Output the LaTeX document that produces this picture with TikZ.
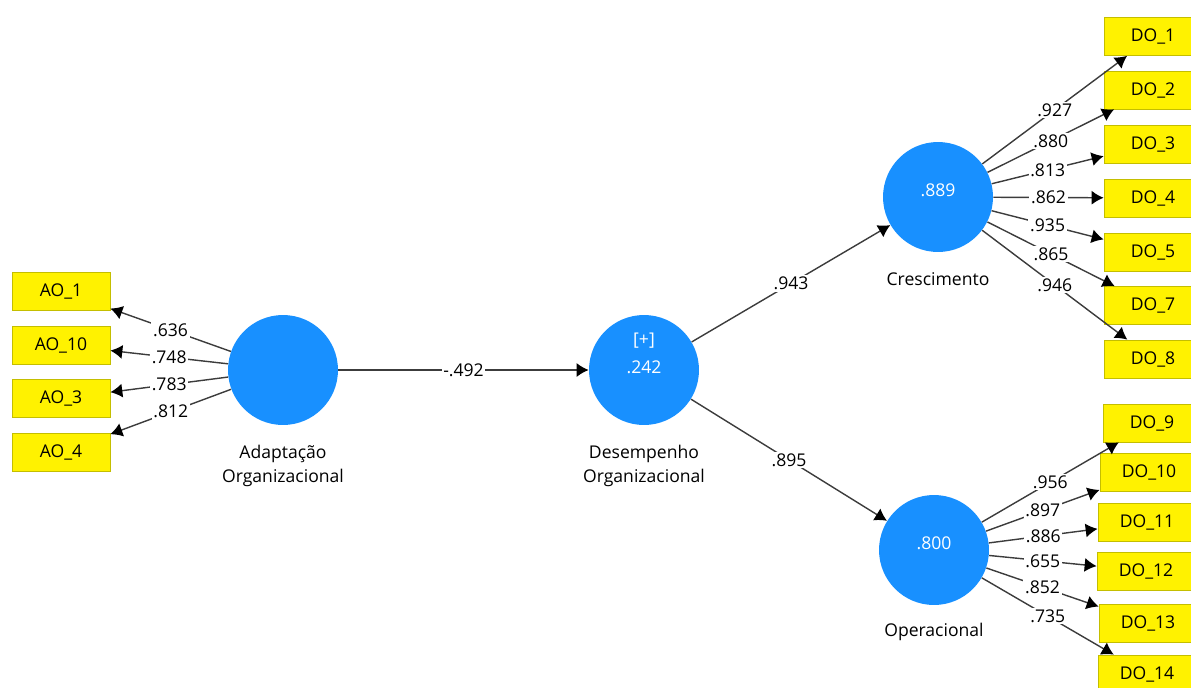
\documentclass[tikz,border=0pt]{standalone}
\usepackage{fontspec}
\setmainfont{Open Sans}
\usetikzlibrary{arrows.meta}
\definecolor{lvblue}{RGB}{24,144,255}
\definecolor{mvborder}{RGB}{196,190,0}
\definecolor{pathgray}{RGB}{60,60,60}

\begin{document}
\begin{tikzpicture}[x=0.02cm,y=-0.02cm,font=\fontsize{10}{12}\selectfont]
\useasboundingbox (0,0) rectangle (1191,687);
\clip (0,0) rectangle (1191,687);

\begin{scope}[every node/.style={circle,fill=lvblue,text=white,minimum size=2.2cm,inner sep=0pt,align=center}]
    \node (AO) at (283,370) {};
    \node (DO) at (644,370) {[+]\\[4pt].242\\[4pt]\strut};
    \node (CR) at (938,197) {.889\\[-8pt]\strut};
    \node (OP) at (934,550) {.800\\[-8pt]\strut};
\end{scope}

\begin{scope}[every node/.style={align=center,font=\fontsize{10}{14}\selectfont}]
    \node (AOtxt) at (283,466) {Adaptação\\Organizacional};
    \node (DOtxt) at (644,466) {Desempenho\\Organizacional};
    \node (CRtxt) at (938,279) {Crescimento};
    \node (OPtxt) at (934,632) {Operacional};
\end{scope}

\begin{scope}[every node/.style={rectangle,draw=mvborder,fill=yellow,minimum width=1.96cm,minimum height=0.76cm,inner sep=1pt}]
    \node (AO1) at (61,291) {AO\_1};
    \node (AO10) at (61,345) {AO\_10};
    \node (AO3) at (61,398.5) {AO\_3};
    \node (AO4) at (61,452.5) {AO\_4};
    \node (DO1) at (1153,36.5) {DO\_1};
    \node (DO2) at (1153,90) {DO\_2};
    \node (DO3) at (1153,144) {DO\_3};
    \node (DO4) at (1153,198) {DO\_4};
    \node (DO5) at (1153,252) {DO\_5};
    \node (DO7) at (1153,305.5) {DO\_7};
    \node (DO8) at (1153,359) {DO\_8};
    \node (DO9) at (1152,423) {DO\_9};
    \node (DO10) at (1149,472) {DO\_10};
    \node (DO11) at (1147,522.5) {DO\_11};
    \node (DO12) at (1146,571) {DO\_12};
    \node (DO13) at (1148,623.5) {DO\_13};
    \node (DO14) at (1147,674) {DO\_14};
\end{scope}

\begin{scope}[>={Latex[black,length=2.4mm,width=2.8mm]},
              every node/.style={fill=white,inner sep=1pt},
              every edge/.style={draw=pathgray,line width=0.8pt}]
    \path [->] (AO) edge node {-.492} (DO);
    \path [->] (DO) edge node {.943} (CR);
    \path [->] (DO) edge node {.895} (OP);
    \path [->] (AO) edge node {.636} (AO1);
    \path [->] (AO) edge node {.748} (AO10);
    \path [->] (AO) edge node {.783} (AO3);
    \path [->] (AO) edge node {.812} (AO4);
    \path [->] (CR) edge node {.927} (DO1);
    \path [->] (CR) edge node {.880} (DO2);
    \path [->] (CR) edge node {.813} (DO3);
    \path [->] (CR) edge node {.862} (DO4);
    \path [->] (CR) edge node {.935} (DO5);
    \path [->] (CR) edge node {.865} (DO7);
    \path [->] (CR) edge node {.946} (DO8);
    \path [->] (OP) edge node {.956} (DO9);
    \path [->] (OP) edge node {.897} (DO10);
    \path [->] (OP) edge node {.886} (DO11);
    \path [->] (OP) edge node {.655} (DO12);
    \path [->] (OP) edge node {.852} (DO13);
    \path [->] (OP) edge node {.735} (DO14);
\end{scope}
\end{tikzpicture}
\end{document}
